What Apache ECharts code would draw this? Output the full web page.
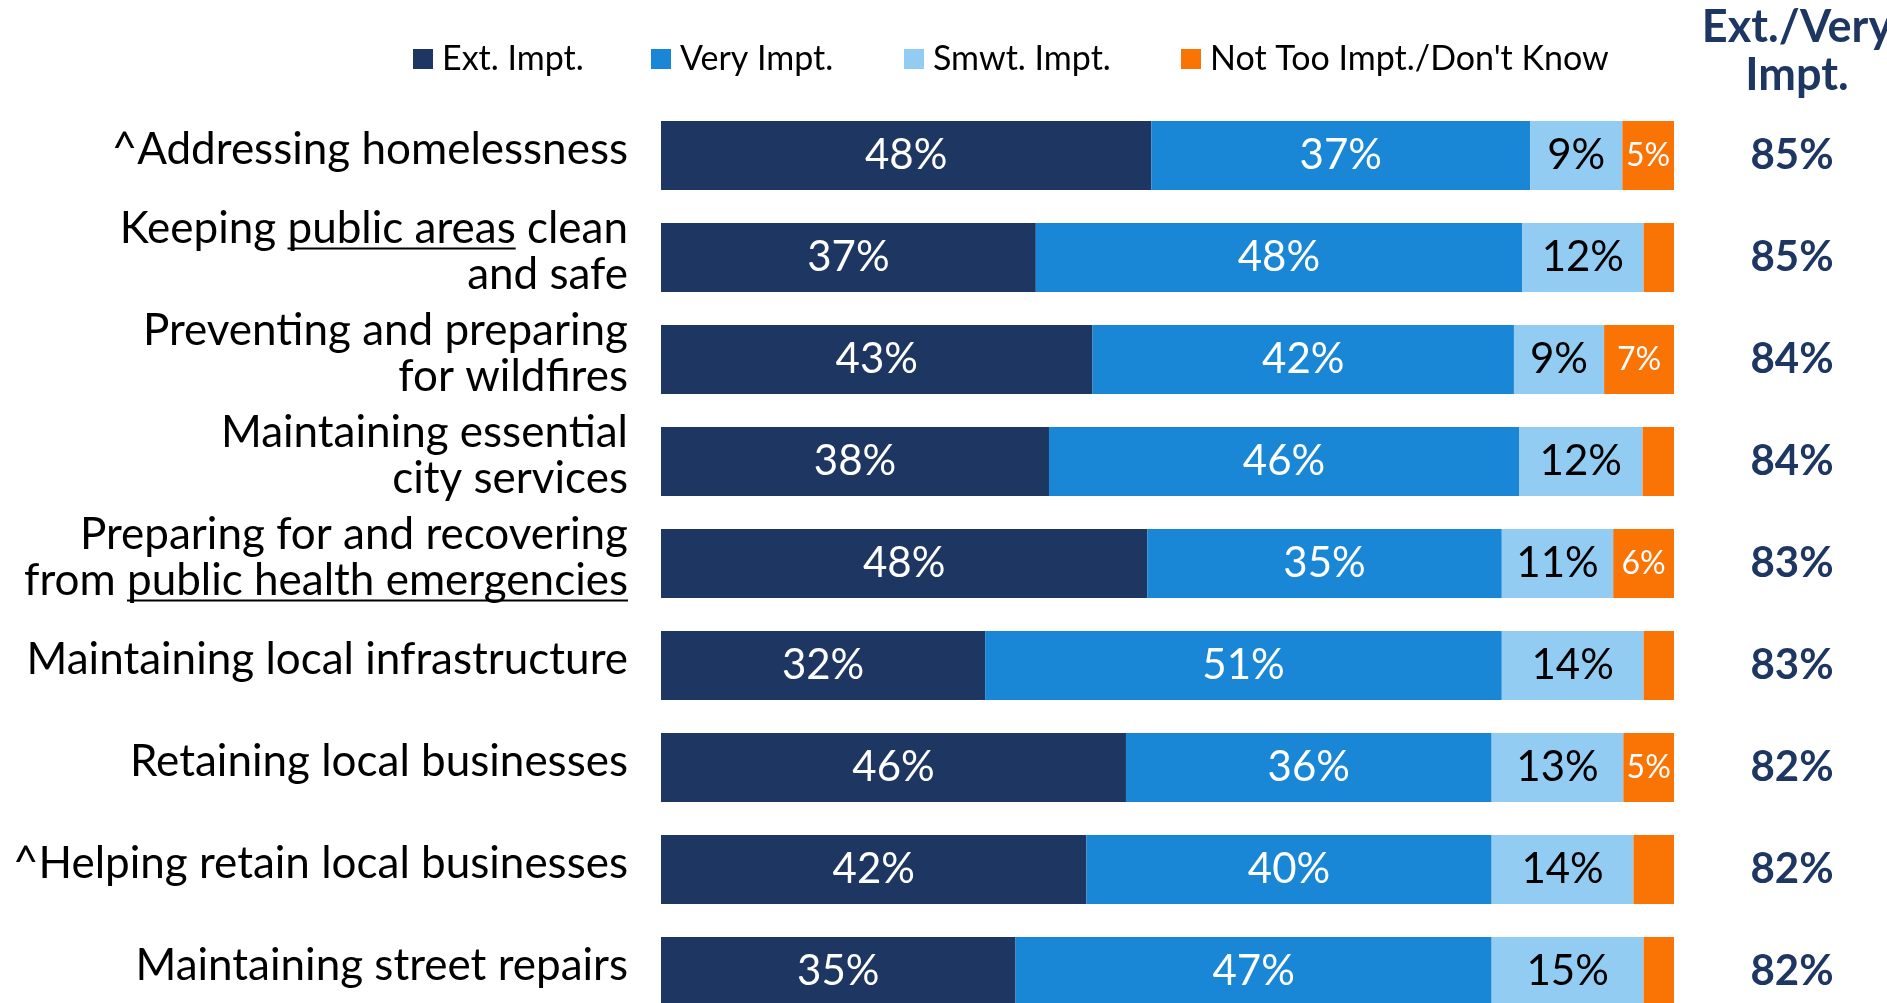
<!DOCTYPE html>
<html>
<head>
<meta charset="UTF-8">
<title>Importance of city services</title>
<script src="https://cdn.jsdelivr.net/npm/echarts@6.0.0/dist/echarts.min.js"></script>
<style>
  html, body { margin: 0; padding: 0; background: #fff; overflow: hidden; height: 1003px; }
  /* taller than the window: the last bar is cut by the bottom edge, as in the slide */
  #main { width: 1887px; height: 1030px; }
</style>
</head>
<body>
<div id="main"></div>
<script type="text/javascript">
// rows, top to bottom
var categories = [
  '^Addressing homelessness',
  'Keeping public areas clean\nand safe',
  'Preventing and preparing\nfor wildfires',
  'Maintaining essential\ncity services',
  'Preparing for and recovering\nfrom public health emergencies',
  'Maintaining local infrastructure',
  'Retaining local businesses',
  '^Helping retain local businesses',
  'Maintaining street repairs'
];
var seriesNames = ['Ext. Impt.', 'Very Impt.', 'Smwt. Impt.', "Not Too Impt./Don't Know"];
var extImpt    = [48.4, 37.0, 42.6, 38.3, 48.0, 32.0, 45.9, 42.0, 35.0];
var veryImpt   = [37.4, 48.0, 41.6, 46.4, 35.0, 51.0, 36.1, 40.0, 47.0];
var smwtImpt   = [9.1, 12.0, 8.9, 12.2, 11.0, 14.0, 13.0, 14.0, 15.0];
var notTooImpt = [5.1, 3.0, 6.9, 3.1, 6.0, 3.0, 5.0, 4.0, 3.0];
var extVeryTotal = [85, 85, 84, 84, 83, 83, 82, 82, 82];
// underlined words: [row, line in label, text]
var underlined = [[1, 0, 'public areas'], [4, 1, 'public health emergencies']];

var colors = ['#1E3762', '#1987D6', '#93CCF3', '#FA7305'];
var FONT = 'Lato';
var catSize = 44, catLine = 46, catLift = 6;
var gridLeft = 661, labelMargin = 33;

var myChart = echarts.init(document.getElementById('main'));

function pct(p) { return Math.round(p.value) + '%'; }

var seriesData = [extImpt, veryImpt, smwtImpt, notTooImpt];
var labelColors = ['#fff', '#fff', '#000', '#fff'];
var series = seriesData.map(function (vals, i) {
  return {
    name: seriesNames[i],
    type: 'bar',
    stack: 'total',
    barWidth: 69,
    data: vals,
    itemStyle: { color: colors[i] },
    label: {
      show: true,
      position: 'inside',
      color: labelColors[i],
      fontFamily: FONT,
      fontSize: i == 3 ? 32 : 42,
      formatter: function (p) {
        // small orange slices have no label
        if (i == 3 && Math.round(p.value) < 5) return '';
        return pct(p);
      }
    }
  };
});

var legendLeft = [408, 646, 899, 1176];
var legends = seriesNames.map(function (name, i) {
  return {
    data: [name],
    left: legendLeft[i],
    top: 37,
    icon: 'rect',
    itemWidth: 20,
    itemHeight: 20,
    selectedMode: false,
    textStyle: { fontFamily: FONT, fontSize: 34, color: '#000', padding: [0, 0, 0, 4] }
  };
});

myChart.setOption({
  animation: false,
  title: {
    text: 'Ext./Very\nImpt.',
    left: 1792,
    top: -2,
    textAlign: 'center',
    textStyle: { fontFamily: FONT, fontSize: 45, fontWeight: 'bold', color: '#1E3762', lineHeight: 48 }
  },
  legend: legends,
  grid: { left: gridLeft, width: 1013, top: 104.5, height: 918 },
  xAxis: { type: 'value', min: 0, max: 100, show: false },
  yAxis: [{
    type: 'category',
    inverse: true,
    data: categories,
    axisLine: { show: false },
    axisTick: { show: false },
    axisLabel: {
      margin: labelMargin,
      color: '#000',
      // each line sits a little above the bar centre, as in the slide
      formatter: function (v) {
        return v.split('\n').map(function (l) { return '{c|' + l + '}'; }).join('\n');
      },
      rich: {
        c: {
          fontFamily: FONT,
          fontSize: catSize,
          color: '#000',
          lineHeight: catLine,
          padding: [0, 0, catLift * 2, 0]
        }
      }
    }
  }, {
    type: 'category',
    inverse: true,
    position: 'right',
    data: extVeryTotal.map(function (v) { return v + '%'; }),
    axisLine: { show: false },
    axisTick: { show: false },
    axisLabel: {
      margin: 118,
      align: 'center',
      fontFamily: FONT,
      fontSize: 42,
      fontWeight: 'bold',
      color: '#1E3762'
    }
  }],
  series: series
});

// underlines under some words of the row labels
var ctx = document.createElement('canvas').getContext('2d');
ctx.font = catSize + 'px ' + FONT;
var lines = [];
underlined.forEach(function (u) {
  var rowLines = categories[u[0]].split('\n');
  var text = rowLines[u[1]];
  var right = gridLeft - labelMargin;
  var x0 = right - ctx.measureText(text).width + ctx.measureText(text.slice(0, text.indexOf(u[2]))).width;
  var x1 = x0 + ctx.measureText(u[2]).width;
  var cy = myChart.convertToPixel({ yAxisIndex: 0 }, u[0]);
  var ly = cy - catLift + (u[1] - (rowLines.length - 1) / 2) * catLine + 20;
  lines.push({
    type: 'line',
    shape: { x1: x0, y1: ly, x2: x1, y2: ly },
    style: { stroke: '#000', lineWidth: 2 }
  });
});
myChart.setOption({ graphic: lines });
</script>
</body>
</html>
